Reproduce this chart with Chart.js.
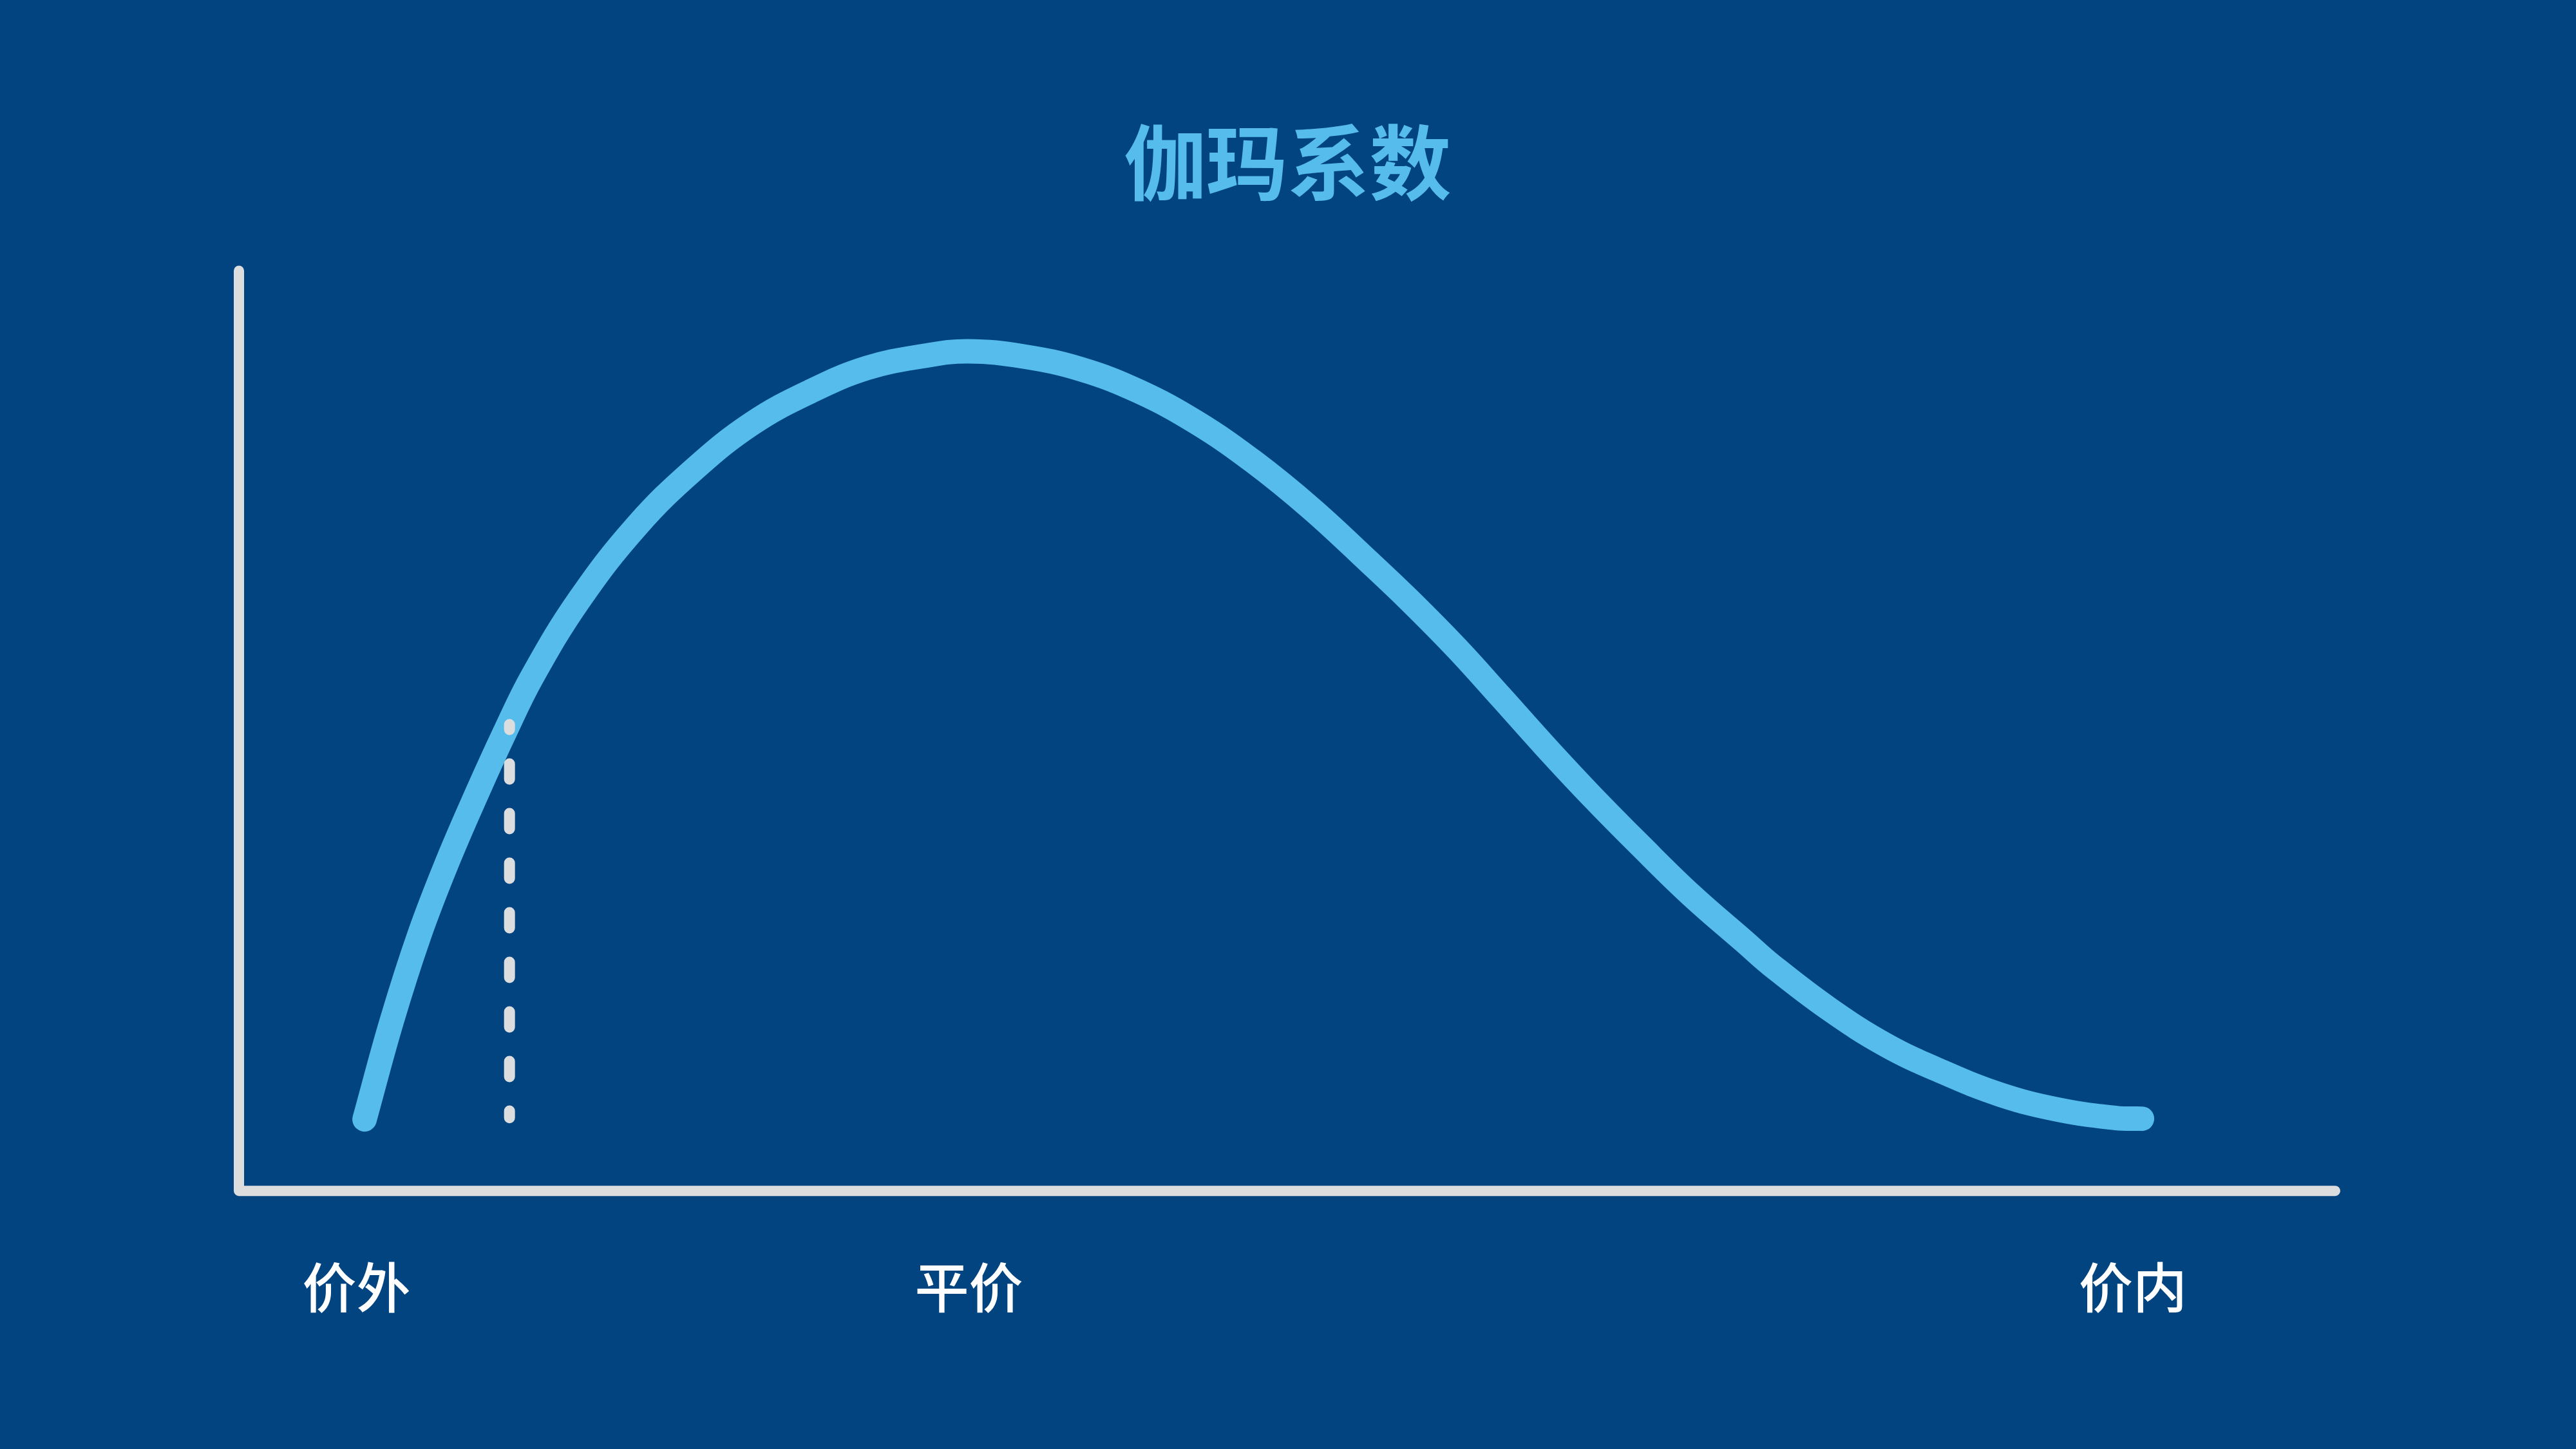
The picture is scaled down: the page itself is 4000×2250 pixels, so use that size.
<!DOCTYPE html>
<html>
<head>
<meta charset="utf-8">
<title>伽玛系数</title>
<script src="https://cdn.jsdelivr.net/npm/chart.js@4.4.1/dist/chart.umd.min.js"></script>
<style>
  html, body { margin: 0; padding: 0; background: #024480; }
  #wrap { width: 4000px; height: 2250px; }
</style>
</head>
<body>
<div id="wrap"><canvas id="gammaChart" width="4000" height="2250"></canvas></div>
<script>
// underlying price (0 = far out of the money, 100 = far in the money)
const priceX = [5.99, 7.28, 8.60, 9.92, 11.39, 12.65, 14.00, 16.24, 18.97, 21.74, 24.47, 27.20,
                29.94, 32.70, 34.76, 37.40, 40.16, 42.89, 45.63, 48.36, 51.12, 53.85, 55.79,
                58.06, 60.18, 62.30, 64.48, 66.81, 69.24, 71.81, 73.04, 75.78, 78.54, 81.27,
                84.00, 86.74, 89.50, 90.73];
// gamma value
const gammaY = [7.73, 18.31, 27.65, 35.45, 43.18, 49.44, 55.64, 63.93, 71.87, 78.06, 82.94, 86.35,
                88.93, 90.25, 90.74, 90.18, 88.79, 86.42, 83.08, 78.83, 73.75, 68.04, 63.86,
                58.64, 53.34, 47.98, 42.69, 37.33, 31.96, 26.88, 24.44, 19.71, 15.74, 12.81,
                10.38, 8.77, 7.87, 7.80];

// dashed marker line
const markerX = [12.9, 12.9];
const markerY = [50.4, 7.9];

const tickValues = [5.6, 34.8, 90.3];
const tickLabels = ['价外', '平价', '价内'];

const curveColor = '#56BCEB';
const axisColor = '#DCDDDF';

// axis lines with round caps, drawn from the scales
const axisLines = {
    id: 'axisLines',
    beforeDatasetsDraw(chart) {
        const x = chart.scales.x;
        const y = chart.scales.y;
        const c = chart.ctx;
        c.save();
        c.strokeStyle = axisColor;
        c.lineWidth = 16;
        c.lineCap = 'round';
        c.lineJoin = 'round';
        c.beginPath();
        c.moveTo(x.left, y.top + 8);
        c.lineTo(x.left, y.bottom);
        c.lineTo(x.right - 2, y.bottom);
        c.stroke();
        c.restore();
    }
};

const ctx = document.getElementById('gammaChart').getContext('2d');
new Chart(ctx, {
    type: 'line',
    data: {
        datasets: [{
            label: '伽玛',
            data: priceX.map((v, i) => ({ x: v, y: gammaY[i] })),
            borderColor: curveColor,
            borderWidth: 38,
            borderCapStyle: 'round',
            borderJoinStyle: 'round',
            tension: 0.4,
            pointRadius: 0,
            fill: false,
            clip: false,
            order: 1
        }, {
            label: 'marker',
            data: markerX.map((v, i) => ({ x: v, y: markerY[i] })),
            borderColor: axisColor,
            borderWidth: 17,
            borderCapStyle: 'round',
            borderDash: [24, 53],
            borderDashOffset: 16,
            pointRadius: 0,
            fill: false,
            clip: false,
            order: 0
        }]
    },
    options: {
        responsive: false,
        devicePixelRatio: 1,
        animation: false,
        events: [],
        layout: {
            padding: { left: 371, right: 372, top: 0, bottom: 102 }
        },
        plugins: {
            legend: { display: false },
            tooltip: { enabled: false },
            title: {
                display: true,
                text: '伽玛系数',
                color: curveColor,
                font: { family: '"Noto Sans CJK SC", "Noto Sans", sans-serif', size: 127, weight: 'bold', lineHeight: 1.2 },
                padding: { top: 177, bottom: 83 }
            }
        },
        scales: {
            x: {
                type: 'linear',
                min: 0,
                max: 100,
                afterBuildTicks: (scale) => {
                    scale.ticks = tickValues.map(v => ({ value: v }));
                },
                ticks: {
                    autoSkip: false,
                    maxRotation: 0,
                    padding: 99,
                    color: '#FFFFFF',
                    font: { family: '"Noto Sans CJK SC", "Noto Sans", sans-serif', size: 84, weight: '500', lineHeight: 1.2 },
                    callback: (value, index) => tickLabels[index]
                },
                grid: { display: false, drawTicks: false },
                border: { display: false }
            },
            y: {
                type: 'linear',
                min: 0,
                max: 100,
                ticks: { display: false },
                grid: { display: false, drawTicks: false },
                border: { display: false }
            }
        }
    },
    plugins: [axisLines]
});
</script>
</body>
</html>
